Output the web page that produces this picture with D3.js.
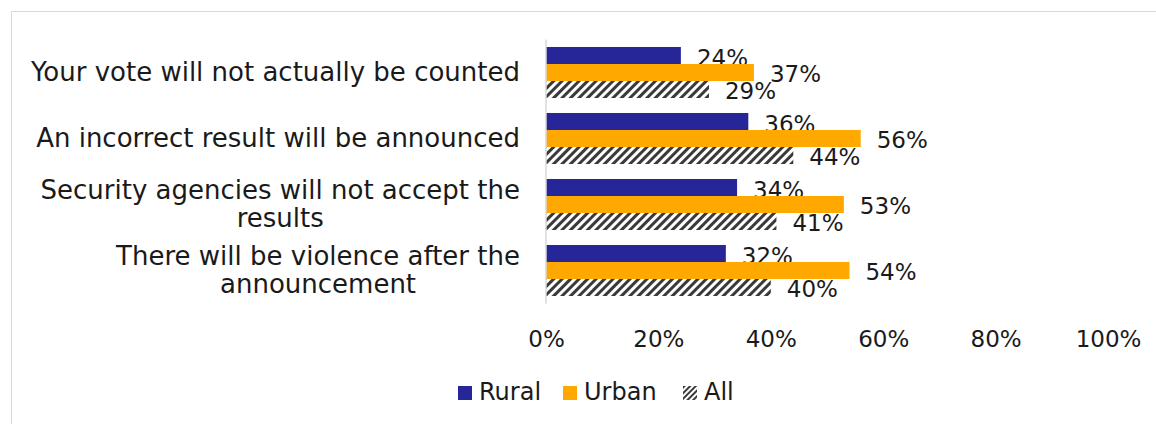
<!DOCTYPE html>
<html>
<head>
<meta charset="utf-8">
<script src="https://cdn.jsdelivr.net/npm/d3@7"></script>
<style>
  html, body { margin: 0; padding: 0; background: #fff; }
  svg { display: block; }
  text { font-family: "DejaVu Sans", sans-serif; fill: #1a1a1a; }
</style>
</head>
<body>
<svg id="chart" width="1156" height="424"></svg>
<script>
const categories = [
  ["Your vote will not actually be counted"],
  ["An incorrect result will be announced"],
  ["Security agencies will not accept the", "results"],
  ["There will be violence after the", "announcement"]
];
const seriesNames = ["Rural", "Urban", "All"];
const rural = [24, 36, 34, 32];
const urban = [37, 56, 53, 54];
const all = [29, 44, 41, 40];
const xTicks = [0, 20, 40, 60, 80, 100];

const seriesValues = [rural, urban, all];
const colors = ["#262699", "#FFA800", "url(#hatch)"];

const svg = d3.select("#chart");
const defs = svg.append("defs");
const pat = defs.append("pattern")
  .attr("id", "hatch").attr("patternUnits", "userSpaceOnUse")
  .attr("width", 6).attr("height", 6)
  .attr("patternTransform", "rotate(45)");
pat.append("rect").attr("width", 6).attr("height", 6).attr("fill", "#fff");
pat.append("rect").attr("width", 3).attr("height", 6).attr("fill", "#3a3a3a");

// outer frame
svg.append("rect").attr("x", 11.5).attr("y", 11.5).attr("width", 1300).attr("height", 600)
  .attr("fill", "none").attr("stroke", "#d9d9d9").attr("stroke-width", 1);

const x = d3.scaleLinear().domain([0, 100]).range([546, 1108]);
const y = d3.scaleBand().domain(d3.range(categories.length)).range([39.5, 303.5])
  .paddingInner(0.227).paddingOuter(0.1135);
const ySub = d3.scaleBand().domain(d3.range(seriesNames.length)).range([0, y.bandwidth()]);

const fsNum = 23, fsCat = 26, fsLeg = 24;

// axis
const xAxis = d3.axisBottom(x).tickValues(xTicks).tickFormat(d => d + "%").tickSize(0).tickPadding(0);
const gx = svg.append("g").attr("transform", "translate(0,347)").call(xAxis);
gx.select(".domain").remove();
gx.selectAll("text").attr("dy", 0).attr("y", 0).style("font-size", fsNum + "px")
  .style("font-family", "'DejaVu Sans', sans-serif").attr("fill", "#1a1a1a");

// bars
const groups = svg.append("g").selectAll("g").data(categories).join("g")
  .attr("transform", (d, i) => `translate(0,${y(i)})`);

seriesValues.forEach((vals, s) => {
  groups.append("rect")
    .attr("x", x(0))
    .attr("y", ySub(s))
    .attr("height", ySub.bandwidth())
    .attr("width", (d, i) => x(vals[i]) - x(0))
    .attr("fill", colors[s]);
  groups.append("text")
    .attr("x", (d, i) => x(vals[i]) + 16)
    .attr("y", ySub(s) + ySub.bandwidth() / 2 + 10)
    .style("font-size", fsNum + "px")
    .text((d, i) => vals[i] + "%");
});

// axis line
svg.append("line").attr("x1", x(0)).attr("x2", x(0)).attr("y1", 39.5).attr("y2", 303.5)
  .attr("stroke", "#d9d9d9").attr("stroke-width", 1.5);

// category labels
groups.each(function(lines, i) {
  const g = d3.select(this);
  const cy = y.bandwidth() / 2;
  const lh = 28;
  const t = g.append("text").style("font-size", fsCat + "px");
  const spans = lines.map((l, k) => t.append("tspan").text(l)
    .attr("y", cy + 8.5 + (k - (lines.length - 1) / 2) * lh));
  const widths = spans.map(s => s.node().getComputedTextLength());
  const maxW = d3.max(widths);
  spans.forEach((s, k) => s.attr("x", 520 - maxW / 2).attr("text-anchor", "middle"));
});

// legend
const pat2 = defs.append("pattern")
  .attr("id", "hatchS").attr("patternUnits", "userSpaceOnUse")
  .attr("width", 4).attr("height", 4)
  .attr("patternTransform", "rotate(45)");
pat2.append("rect").attr("width", 4).attr("height", 4).attr("fill", "#fff");
pat2.append("rect").attr("width", 2).attr("height", 4).attr("fill", "#3a3a3a");

const legendItems = [
  { name: seriesNames[0], fill: colors[0], x: 458 },
  { name: seriesNames[1], fill: colors[1], x: 563 },
  { name: seriesNames[2], fill: "url(#hatchS)", x: 683 }
];
const lg = svg.append("g").selectAll("g").data(legendItems).join("g");
lg.append("rect").attr("x", d => d.x).attr("y", 386).attr("width", 14).attr("height", 14)
  .attr("fill", d => d.fill);
lg.append("text").attr("x", d => d.x + 21).attr("y", 400).style("font-size", fsLeg + "px")
  .text(d => d.name);
</script>
</body>
</html>
